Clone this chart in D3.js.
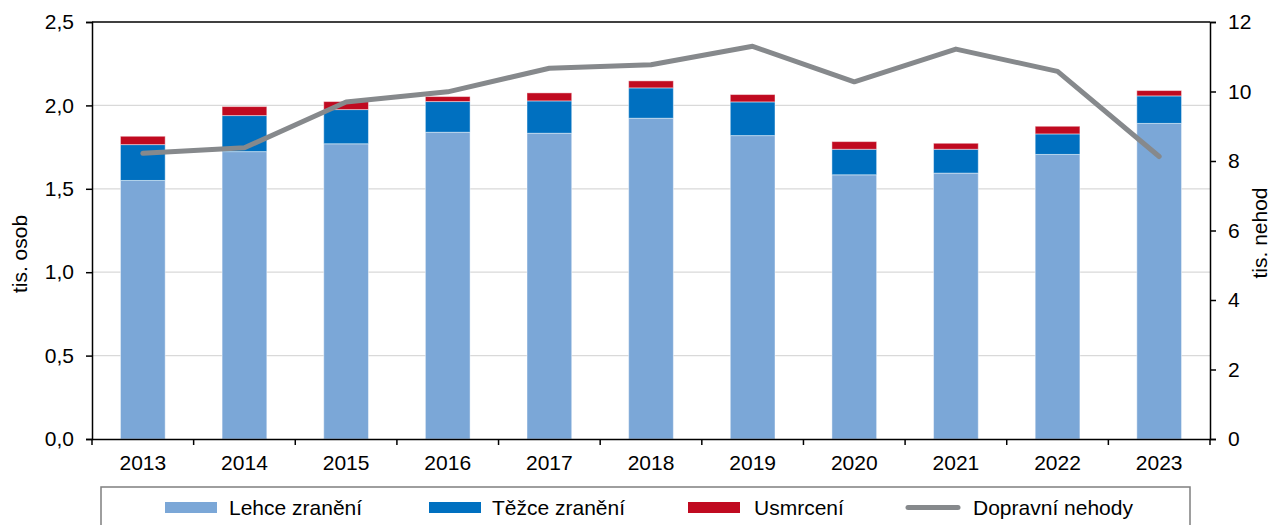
<!DOCTYPE html>
<html>
<head>
<meta charset="utf-8">
<script src="https://cdn.jsdelivr.net/npm/d3@7"></script>
<style>
  html, body { margin: 0; padding: 0; background: #fff; }
  svg { display: block; font-family: "Liberation Sans", Arial, sans-serif; }
</style>
</head>
<body>
<svg id="chart" width="1270" height="525"></svg>
<script>
// Years on the category axis
const years = ["2013","2014","2015","2016","2017","2018","2019","2020","2021","2022","2023"];
// Casualties, thousands of persons (stacked)
const lightlyInjured   = [1.550, 1.723, 1.770, 1.839, 1.833, 1.923, 1.819, 1.584, 1.594, 1.706, 1.892];
const seriouslyInjured = [0.215, 0.216, 0.205, 0.184, 0.194, 0.182, 0.202, 0.153, 0.143, 0.123, 0.165];
const killed           = [0.050, 0.054, 0.048, 0.030, 0.048, 0.042, 0.044, 0.046, 0.036, 0.046, 0.032];
// Road accidents, thousands (right axis)
const accidents = [8.22, 8.38, 9.70, 9.99, 10.67, 10.77, 11.30, 10.28, 11.22, 10.58, 8.13];
// Axis ticks
const leftTicks  = [0, 0.5, 1.0, 1.5, 2.0, 2.5];
const rightTicks = [0, 2, 4, 6, 8, 10, 12];
// Legend entries
const seriesNames = ["Lehce zranění", "Těžce zranění", "Usmrcení", "Dopravní nehody"];
const colors = ["#7ba7d7", "#0070c0", "#c00a20", "#86898c"];

const svg = d3.select("#chart");
const plot = { left: 92, right: 1210, top: 22, bottom: 439 };
const fontSize = "21px";

const x = d3.scaleBand().domain(years).range([plot.left, plot.right]).padding(0);
const yL = d3.scaleLinear().domain([0, 2.5]).range([plot.bottom, plot.top]);
const yR = d3.scaleLinear().domain([0, 12]).range([plot.bottom, plot.top]);
const barW = x.bandwidth() * 0.44;

// Horizontal gridlines
svg.append("g").selectAll("line")
  .data(leftTicks.filter(t => t > 0 && t < 2.5))
  .join("line")
  .attr("x1", plot.left).attr("x2", plot.right)
  .attr("y1", d => yL(d)).attr("y2", d => yL(d))
  .attr("stroke", "#d9d9d9").attr("stroke-width", 1.2);

// Stacked bars
const rows = years.map((y, i) => ({ year: y, a: lightlyInjured[i], b: seriouslyInjured[i], c: killed[i] }));
const stack = d3.stack().keys(["a", "b", "c"])(rows);
svg.append("g").selectAll("g")
  .data(stack)
  .join("g")
  .attr("fill", (d, i) => colors[i])
  .selectAll("rect")
  .data(d => d)
  .join("rect")
  .attr("x", d => x(d.data.year) + (x.bandwidth() - barW) / 2)
  .attr("width", barW)
  .attr("y", d => yL(d[1]))
  .attr("height", d => yL(d[0]) - yL(d[1]))
  .attr("stroke", "rgba(255,255,255,0.45)")
  .attr("stroke-width", 1);

// Accidents line
const line = d3.line()
  .x((d, i) => x(years[i]) + x.bandwidth() / 2)
  .y(d => yR(d));
svg.append("path")
  .datum(accidents)
  .attr("d", line)
  .attr("fill", "none")
  .attr("stroke", colors[3])
  .attr("stroke-width", 5)
  .attr("stroke-linejoin", "round")
  .attr("stroke-linecap", "round");

// Top frame line
svg.append("line")
  .attr("x1", plot.left).attr("x2", plot.right)
  .attr("y1", plot.top).attr("y2", plot.top)
  .attr("stroke", "#000").attr("stroke-width", 1.5);

const fmt = d3.format(".1f");
// Left axis
const gL = svg.append("g")
  .attr("transform", `translate(${plot.left},0)`)
  .call(d3.axisLeft(yL).tickValues(leftTicks).tickSize(6).tickPadding(12)
    .tickFormat(d => fmt(d).replace(".", ",")));
// Right axis
const gR = svg.append("g")
  .attr("transform", `translate(${plot.right},0)`)
  .call(d3.axisRight(yR).tickValues(rightTicks).tickSize(6).tickPadding(12));
// Bottom axis: ticks at category boundaries
const gB = svg.append("g")
  .attr("transform", `translate(0,${plot.bottom})`)
  .call(d3.axisBottom(x).tickSize(0).tickPadding(16));
const boundaries = years.map(y => x(y)).concat([plot.right]);
gB.selectAll(".boundary")
  .data(boundaries)
  .join("line")
  .attr("class", "boundary")
  .attr("x1", d => d).attr("x2", d => d)
  .attr("y1", 0).attr("y2", 6)
  .attr("stroke", "#000").attr("stroke-width", 1.5);

[gL, gR, gB].forEach(g => {
  g.select(".domain").attr("stroke", "#000").attr("stroke-width", 1.5);
  g.selectAll(".tick line").attr("stroke", "#000").attr("stroke-width", 1.5);
  g.selectAll(".tick text")
    .attr("fill", "#000")
    .style("font-family", "'Liberation Sans', Arial, sans-serif")
    .style("font-size", fontSize);
});

// Axis titles
svg.append("text")
  .attr("transform", "translate(27,254) rotate(-90)")
  .attr("text-anchor", "middle")
  .style("font-size", fontSize)
  .text("tis. osob");
svg.append("text")
  .attr("transform", "translate(1267,233) rotate(-90)")
  .attr("text-anchor", "middle")
  .style("font-size", fontSize)
  .text("tis. nehod");

// Legend
const lg = svg.append("g");
lg.append("rect")
  .attr("x", 101).attr("y", 487).attr("width", 1089).attr("height", 50)
  .attr("fill", "#fff").attr("stroke", "#7f7f7f").attr("stroke-width", 1.5);
const swatchX = [165, 429, 688, 906];
const labelX = [229, 492, 754, 973];
seriesNames.forEach((name, i) => {
  const g = lg.append("g").attr("transform", "translate(0,507.5)");
  if (i < 3) {
    g.append("rect").attr("x", swatchX[i]).attr("y", -5.5).attr("width", 52).attr("height", 11).attr("fill", colors[i]);
  } else {
    g.append("line").attr("x1", swatchX[i] + 2).attr("x2", swatchX[i] + 52).attr("y1", 0).attr("y2", 0)
      .attr("stroke", colors[i]).attr("stroke-width", 5).attr("stroke-linecap", "round");
  }
  g.append("text").attr("x", labelX[i]).attr("y", 7.5)
    .style("font-size", fontSize).text(name);
});
</script>
</body>
</html>
